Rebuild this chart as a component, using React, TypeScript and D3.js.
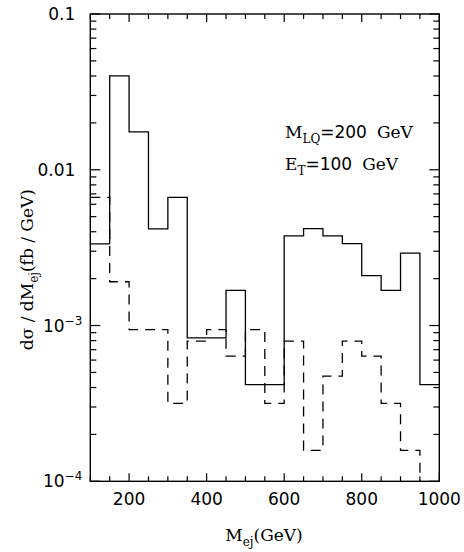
import React from "react";
import * as d3 from "d3";

const binEdges = [100, 150, 200, 250, 300, 350, 400, 450, 500, 550, 600, 650, 700, 750, 800, 850, 900, 950, 1000];
const solidValues = [0.00334, 0.0401, 0.0175, 0.00417, 0.00665, 0.000834, 0.000834, 0.00168, 0.000418, 0.000418, 0.00376, 0.00419, 0.00376, 0.00336, 0.00209, 0.00168, 0.00292, 0.000418];
const dashedValues = [0.00665, 0.00191, 0.000942, 0.000942, 0.000316, 0.000794, 0.000942, 0.000636, 0.000942, 0.000316, 0.000794, 0.000158, 0.000473, 0.000794, 0.000636, 0.000316, 0.000158, 0.00009];
const xTicks = [200, 400, 600, 800, 1000];
const yMajor = [0.1, 0.01, 0.001, 0.0001];

const W = 464, H = 552;
const L = 90.3, R = 439.3, T = 14, B = 481.3;
const NUM = "'DejaVu Sans', sans-serif";
const SER = "'DejaVu Serif', serif";

export default function App() {
  const x = d3.scaleLinear().domain([100, 1000]).range([L, R]);
  const y = d3.scaleLog().domain([0.0001, 0.1]).range([B, T]);

  const stepLine = d3.line<[number, number]>().x(d => x(d[0])).y(d => y(d[1])).curve(d3.curveStepAfter);
  const pts = (vals: number[]) => {
    const p: [number, number][] = vals.map((v, i) => [binEdges[i], v]);
    p.push([binEdges[binEdges.length - 1], vals[vals.length - 1]]);
    return p;
  };

  const xMinor = d3.range(100, 1001, 50).filter(v => v % 200 !== 0);
  const yMinor: number[] = [];
  for (const dec of [0.0001, 0.001, 0.01]) for (let k = 2; k <= 9; k++) yMinor.push(dec * k);

  const stroke = "#000";
  const sw = 1.3;

  const yLabel = (v: number) => {
    if (v === 0.1) return <tspan>0.1</tspan>;
    if (v === 0.01) return <tspan>0.01</tspan>;
    const e = Math.round(Math.log10(v));
    return (
      <>
        <tspan>10</tspan>
        <tspan dy={-7} fontSize={12}>{"\u2212" + Math.abs(e)}</tspan>
      </>
    );
  };

  return (
    <svg width={W} height={H} style={{ position: "absolute", left: 0, top: 0, background: "#fff" }}>
      <defs>
        <clipPath id="plot">
          <rect x={L} y={T} width={R - L} height={B - T} />
        </clipPath>
      </defs>
      <rect x={0} y={0} width={W} height={H} fill="#fff" />
      <g clipPath="url(#plot)" fill="none" stroke={stroke} strokeWidth={sw}>
        <path d={stepLine(pts(dashedValues)) || ""} strokeDasharray="10,7" />
        <path d={stepLine(pts(solidValues)) || ""} />
      </g>
      {/* frame */}
      <rect x={L} y={T} width={R - L} height={B - T} fill="none" stroke={stroke} strokeWidth={1.4} />
      {/* ticks */}
      <g stroke={stroke} strokeWidth={1.2}>
        {xTicks.map(v => (
          <g key={"xm" + v}>
            <line x1={x(v)} x2={x(v)} y1={B} y2={B - 8} />
            <line x1={x(v)} x2={x(v)} y1={T} y2={T + 8} />
          </g>
        ))}
        {xMinor.map(v => (
          <g key={"xn" + v}>
            <line x1={x(v)} x2={x(v)} y1={B} y2={B - 5} />
            <line x1={x(v)} x2={x(v)} y1={T} y2={T + 5} />
          </g>
        ))}
        {yMajor.map(v => (
          <g key={"ym" + v}>
            <line x1={L} x2={L + 10} y1={y(v)} y2={y(v)} />
            <line x1={R} x2={R - 10} y1={y(v)} y2={y(v)} />
          </g>
        ))}
        {yMinor.map(v => (
          <g key={"yn" + v}>
            <line x1={L} x2={L + 6} y1={y(v)} y2={y(v)} />
            <line x1={R} x2={R - 6} y1={y(v)} y2={y(v)} />
          </g>
        ))}
      </g>
      {/* x tick labels */}
      <g fontFamily={NUM} fontSize={17} textAnchor="middle" fill="#000">
        {xTicks.map(v => (
          <text key={"xl" + v} x={x(v)} y={505}>{v}</text>
        ))}
      </g>
      {/* y tick labels */}
      <g fontFamily={NUM} fontSize={17} textAnchor="end" fill="#000">
        {yMajor.map(v => (
          <text key={"yl" + v} x={v >= 0.01 ? L - 15 : L - 8} y={y(v) + 6}>{yLabel(v)}</text>
        ))}
      </g>
      {/* annotations */}
      <g fontFamily={SER} fontSize={17} fill="#000">
        <text x={285} y={138}>
          M<tspan dy={5} fontSize={12}>LQ</tspan><tspan dy={-5} fontFamily={NUM}>=200</tspan><tspan dx={10}>GeV</tspan>
        </text>
        <text x={285} y={170}>
          E<tspan dy={5} fontSize={12}>T</tspan><tspan dy={-5} fontFamily={NUM}>=100</tspan><tspan dx={10}>GeV</tspan>
        </text>
      </g>
      {/* axis titles */}
      <text x={264} y={541} fontFamily={SER} fontSize={17} textAnchor="middle" fill="#000">
        M<tspan dy={5} fontSize={12}>ej</tspan><tspan dy={-5}>(GeV)</tspan>
      </text>
      <text transform={`translate(33,${(T + B) / 2 + 22}) rotate(-90)`} fontFamily={SER} fontSize={17} textAnchor="middle" fill="#000">
        dσ / dM<tspan dy={5} fontSize={12}>ej</tspan><tspan dy={-5}>(fb / GeV)</tspan>
      </text>
    </svg>
  );
}
